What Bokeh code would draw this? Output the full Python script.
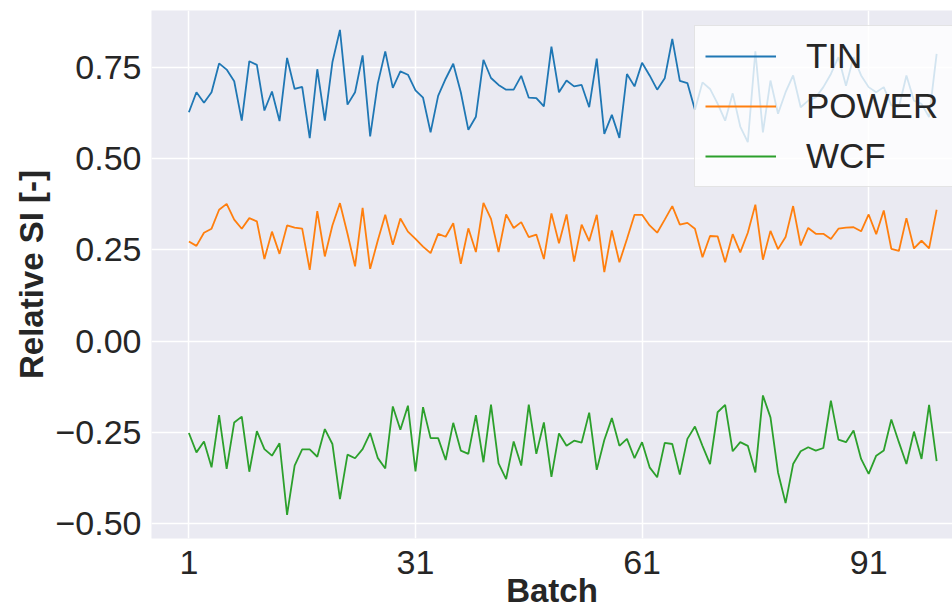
from bokeh.plotting import figure
from bokeh.models import Range1d, FixedTicker, Legend, LegendItem
from bokeh.embed import file_html
from bokeh.resources import INLINE

batch = list(range(1, 101))

tin = [0.627, 0.682, 0.653, 0.682, 0.761, 0.744, 0.712, 0.604, 0.767, 0.757,
       0.632, 0.684, 0.603, 0.776, 0.691, 0.697, 0.556, 0.745, 0.604, 0.764,
       0.853, 0.648, 0.682, 0.783, 0.561, 0.705, 0.794, 0.694, 0.739, 0.730,
       0.687, 0.667, 0.572, 0.672, 0.719, 0.760, 0.682, 0.579, 0.615, 0.771,
       0.721, 0.702, 0.689, 0.689, 0.727, 0.667, 0.666, 0.643, 0.807, 0.682,
       0.714, 0.698, 0.702, 0.641, 0.774, 0.568, 0.620, 0.557, 0.732, 0.698,
       0.763, 0.728, 0.689, 0.720, 0.828, 0.713, 0.707, 0.634, 0.709, 0.691,
       0.651, 0.604, 0.679, 0.588, 0.545, 0.794, 0.572, 0.714, 0.623, 0.682,
       0.728, 0.641, 0.659, 0.668, 0.696, 0.732, 0.778, 0.700, 0.778, 0.728,
       0.696, 0.682, 0.696, 0.646, 0.641, 0.728, 0.659, 0.650, 0.614, 0.787]

power = [0.273, 0.261, 0.297, 0.308, 0.360, 0.376, 0.333, 0.308, 0.337, 0.328,
         0.225, 0.300, 0.239, 0.317, 0.311, 0.308, 0.195, 0.356, 0.232, 0.317,
         0.378, 0.294, 0.205, 0.365, 0.198, 0.275, 0.346, 0.264, 0.336, 0.300,
         0.280, 0.259, 0.241, 0.294, 0.286, 0.323, 0.212, 0.309, 0.244, 0.379,
         0.335, 0.244, 0.347, 0.310, 0.326, 0.285, 0.292, 0.225, 0.350, 0.268,
         0.347, 0.218, 0.319, 0.274, 0.346, 0.189, 0.303, 0.216, 0.280, 0.346,
         0.346, 0.317, 0.297, 0.333, 0.370, 0.319, 0.324, 0.308, 0.230, 0.288,
         0.287, 0.216, 0.293, 0.243, 0.297, 0.374, 0.223, 0.302, 0.252, 0.285,
         0.370, 0.262, 0.310, 0.294, 0.294, 0.280, 0.308, 0.311, 0.312, 0.301,
         0.347, 0.293, 0.358, 0.253, 0.247, 0.337, 0.254, 0.275, 0.254, 0.360]

wcf = [-0.252, -0.305, -0.275, -0.346, -0.203, -0.350, -0.223, -0.207, -0.358, -0.247,
       -0.296, -0.314, -0.280, -0.476, -0.341, -0.297, -0.297, -0.317, -0.241, -0.282,
       -0.433, -0.311, -0.321, -0.296, -0.252, -0.320, -0.349, -0.179, -0.243, -0.177,
       -0.357, -0.181, -0.266, -0.266, -0.326, -0.224, -0.300, -0.309, -0.203, -0.332,
       -0.174, -0.335, -0.378, -0.275, -0.341, -0.174, -0.309, -0.223, -0.372, -0.253,
       -0.287, -0.273, -0.278, -0.196, -0.353, -0.271, -0.211, -0.287, -0.268, -0.321,
       -0.277, -0.346, -0.373, -0.279, -0.282, -0.366, -0.268, -0.234, -0.287, -0.337,
       -0.195, -0.175, -0.302, -0.277, -0.287, -0.360, -0.149, -0.209, -0.360, -0.444,
       -0.337, -0.302, -0.291, -0.300, -0.293, -0.163, -0.270, -0.277, -0.245, -0.323,
       -0.364, -0.314, -0.300, -0.215, -0.277, -0.337, -0.248, -0.323, -0.175, -0.329]

series_names = ["TIN", "POWER", "WCF"]
series_colors = ["#1f77b4", "#ff7f0e", "#2ca02c"]
x_ticks = [1, 31, 61, 91]
y_ticks = [-0.5, -0.25, 0.0, 0.25, 0.5, 0.75]
y_tick_labels = ["\u22120.50", "\u22120.25", "0.00", "0.25", "0.50", "0.75"]

FONT = "Liberation Sans"
TXT = "#262626"

p = figure(width=952, height=611, output_backend="svg", toolbar_location=None,
           x_range=Range1d(-3.95, 102.1), y_range=Range1d(-0.541, 0.906),
           min_border_left=151, min_border_right=0, min_border_top=10,
           min_border_bottom=73)
p.background_fill_color = "#EAEAF2"
p.border_fill_color = "white"
p.outline_line_color = None
p.grid.grid_line_color = "white"
p.grid.grid_line_width = 1.5

renderers = []
for name, col, vals in zip(series_names, series_colors, [tin, power, wcf]):
    r = p.line(batch, vals, line_color=col, line_width=1.8)
    renderers.append(r)

p.xaxis.ticker = FixedTicker(ticks=x_ticks)
p.yaxis.ticker = FixedTicker(ticks=y_ticks)
p.yaxis.major_label_overrides = {t: l for t, l in zip(y_ticks, y_tick_labels)}
for ax in (p.xaxis[0], p.yaxis[0]):
    ax.axis_line_color = None
    ax.major_tick_line_color = None
    ax.minor_tick_line_color = None
    ax.major_label_text_font = FONT
    ax.major_label_text_font_size = "34px"
    ax.major_label_text_color = TXT
    ax.axis_label_text_font = FONT
    ax.axis_label_text_font_size = "33px"
    ax.axis_label_text_font_style = "bold"
    ax.axis_label_text_color = TXT
    ax.major_label_standoff = 4
    ax.axis_label_standoff = 2
p.xaxis.major_label_standoff = 6
p.xaxis.axis_label_standoff = -5
p.xaxis.axis_label = "Batch"
p.yaxis.axis_label = "Relative SI [-]"

legend = Legend(items=[LegendItem(label=n, renderers=[r]) for n, r in zip(series_names, renderers)],
                location=(543, 351))
legend.label_text_font = FONT
legend.label_text_font_size = "35px"
legend.label_text_color = TXT
legend.glyph_width = 71
legend.glyph_height = 40
legend.label_height = 40
legend.label_width = 145
legend.spacing = 10
legend.padding = 10
legend.margin = 0
legend.label_standoff = 30
legend.background_fill_color = "white"
legend.background_fill_alpha = 0.8
legend.border_line_color = "#cccccc"
legend.border_line_width = 1
p.add_layout(legend)

open("out.html", "w").write(file_html(p, INLINE))
